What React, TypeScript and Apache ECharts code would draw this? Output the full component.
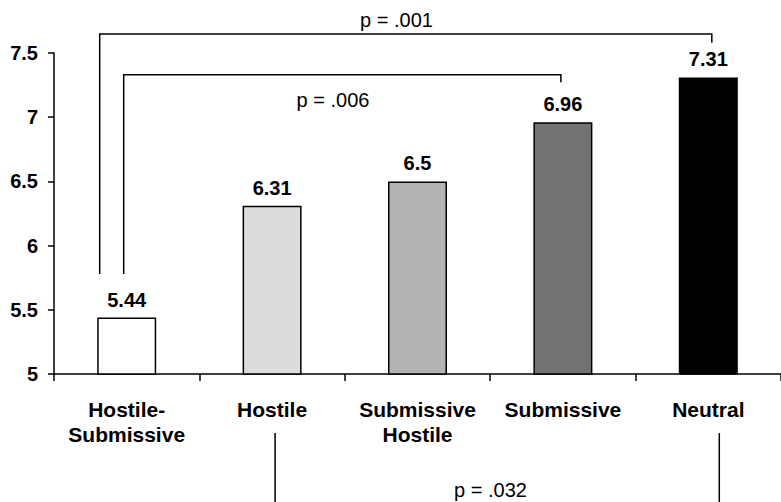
import React, { useEffect, useRef } from "react";
import * as echarts from "echarts";

const categories = ["Hostile-\nSubmissive", "Hostile", "Submissive\nHostile", "Submissive", "Neutral"];
const values = [5.44, 6.31, 6.5, 6.96, 7.31];
const barColors = ["#ffffff", "#dcdcdc", "#b3b3b3", "#737373", "#000000"];
const yMin = 5;
const yMax = 7.5;
const yInterval = 0.5;

// significance brackets: category indices, bracket level (value units), drop ends (value units)
const brackets = [
  { label: "p = .001", from: 0, to: 4, level: 7.648, leftEnd: 5.779, rightEnd: 7.58, dxL: -27, dxR: 3.5, labelX: 396.5, labelY: 20 },
  { label: "p = .006", from: 0, to: 3, level: 7.331, leftEnd: 5.779, rightEnd: 7.272, dxL: -3, dxR: -2, labelX: 333, labelY: 100 },
];
const bottomBracket = { label: "p = .032", from: 1, to: 4, dxL: 3, dxR: 11, topY: 433, labelX: 490.5, labelY: 490 };

const FONT = "'Liberation Sans', Arial, Helvetica, sans-serif";

export default function App() {
  const ref = useRef<HTMLDivElement>(null);
  useEffect(() => {
    if (!ref.current) return;
    const chart = echarts.init(ref.current, null, { renderer: "svg" });
    chart.setOption({
      animation: false,
      backgroundColor: "#ffffff",
      grid: { left: 54, top: 53, width: 733, height: 321, containLabel: false },
      xAxis: {
        type: "category",
        data: categories,
        boundaryGap: true,
        axisLine: { lineStyle: { color: "#000", width: 1.5 } },
        axisTick: { show: true, length: 7, lineStyle: { color: "#000", width: 1.5 } },
        axisLabel: {
          color: "#000",
          fontFamily: FONT,
          fontWeight: "bold",
          fontSize: 21,
          lineHeight: 25,
          margin: 23,
          interval: 0,
        },
      },
      yAxis: {
        type: "value",
        min: yMin,
        max: yMax,
        interval: yInterval,
        splitLine: { show: false },
        axisLine: { show: true, lineStyle: { color: "#000", width: 1.5 } },
        axisTick: { show: true, length: 6, lineStyle: { color: "#000", width: 1.5 } },
        axisLabel: {
          color: "#000",
          fontFamily: FONT,
          fontWeight: "bold",
          fontSize: 20,
          margin: 16,
        },
      },
      series: [
        {
          type: "bar",
          barWidth: 59,
          data: values.map((v, i) => ({
            value: v,
            itemStyle: { color: barColors[i], borderColor: "#000", borderWidth: 1.5 },
          })),
          label: {
            show: true,
            position: "top",
            distance: 8,
            color: "#000",
            fontFamily: FONT,
            fontWeight: "bold",
            fontSize: 20,
          },
        },
      ],
    });

    const px = (ci: number) => chart.convertToPixel({ xAxisIndex: 0 }, ci) as number;
    const py = (v: number) => chart.convertToPixel({ yAxisIndex: 0 }, v) as number;
    const lineStyle = { stroke: "#000", lineWidth: 1.5, fill: "none" };
    const graphics: any[] = [];
    brackets.forEach((b) => {
      const xl = px(b.from) + b.dxL;
      const xr = px(b.to) + b.dxR;
      const yl = py(b.level);
      graphics.push({
        type: "polyline",
        shape: { points: [[xl, py(b.leftEnd)], [xl, yl], [xr, yl], [xr, py(b.rightEnd)]] },
        style: lineStyle,
      });
      graphics.push({
        type: "text",
        x: b.labelX,
        y: b.labelY,
        style: { text: b.label, fontFamily: FONT, fontSize: 20, fill: "#000", align: "center", verticalAlign: "middle" },
      });
    });
    {
      const b = bottomBracket;
      const xl = px(b.from) + b.dxL;
      const xr = px(b.to) + b.dxR;
      graphics.push({ type: "line", shape: { x1: xl, y1: b.topY, x2: xl, y2: 520 }, style: lineStyle });
      graphics.push({ type: "line", shape: { x1: xr, y1: b.topY, x2: xr, y2: 520 }, style: lineStyle });
      graphics.push({
        type: "text",
        x: b.labelX,
        y: b.labelY,
        style: { text: b.label, fontFamily: FONT, fontSize: 20, fill: "#000", align: "center", verticalAlign: "middle" },
      });
    }
    chart.setOption({ graphic: graphics });
    return () => chart.dispose();
  }, []);
  return (
    <div
      ref={ref}
      style={{ position: "fixed", left: 0, top: 0, width: 781, height: 502, background: "#fff" }}
    />
  );
}
